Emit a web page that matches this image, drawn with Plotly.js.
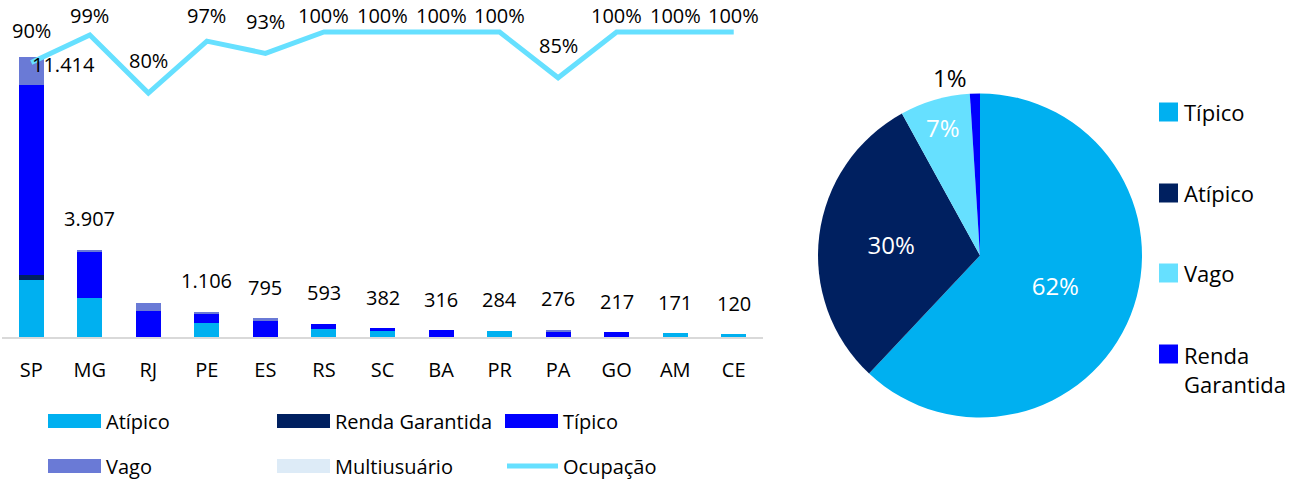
<!DOCTYPE html>
<html>
<head>
<meta charset="utf-8">
<script src="https://cdn.plot.ly/plotly-3.0.1.min.js"></script>
<style>
  html, body { margin: 0; padding: 0; background: #ffffff; }
  #chart { width: 1303px; height: 482px; }
</style>
</head>
<body>
<div id="chart"></div>
<script>
// ---------- data ----------
const categories = ['SP', 'MG', 'RJ', 'PE', 'ES', 'RS', 'SC', 'BA', 'PR', 'PA', 'GO', 'AM', 'CE'];
const atipico        = [2311, 1606,    0, 558,   0, 342, 232,   0, 261,   0,   0, 151, 110];
const rendaGarantida = [ 232,    0,    0,   0,   0,   0,   0,   0,   0,   0,   0,   0,   0];
const tipico         = [7716, 1846, 1076, 395, 640, 204, 122, 285,   0, 192, 192,   0,   0];
const vago           = [1154,  110,  310,  82, 122,   0,   0,   0,   0, 110,   0,   0,   0];
const multiusuario   = [   0,    0,    0,   0,   0,   0,   0,   0,   0,   0,   0,   0,   0];
const ocupacao       = [0.90, 0.99, 0.80, 0.97, 0.93, 1.00, 1.00, 1.00, 1.00, 0.85, 1.00, 1.00, 1.00];
const totalLabels    = [11414, 3907, null, 1106, 795, 593, 382, 316, 284, 276, 217, 171, 120];

const barSeriesNames = ['Atípico', 'Renda Garantida', 'Típico', 'Vago', 'Multiusuário'];
const lineSeriesName = 'Ocupação';

const pieLabels = ['Típico', 'Atípico', 'Vago', 'Renda Garantida'];
const pieValues = [62, 30, 7, 1];

// ---------- style ----------
const W = 1303, H = 482;
const FONT = '"Open Sans", "Noto Sans", sans-serif';
const barColors = ['#00B0F0', '#002060', '#0000FF', '#6A7AD6', '#DDEBF7'];
const lineColor = '#66E0FF';
const pieColors = ['#00B0F0', '#002060', '#66E0FF', '#0000FF'];
const pieTextColors = ['#FFFFFF', '#FFFFFF', '#FFFFFF', '#000000'];

const px = x => x / W;
const py = y => 1 - y / H;

// plot area geometry (pixels)
const BASE = 337, TOPPX = 0, Y2_100 = 32;
const Y2MAX = (BASE - TOPPX) / (BASE - Y2_100);   // y2 units at plot top
const Y1MAX = 12420 * Y2MAX;

function fmtThousands(n) {
  const s = String(Math.round(n));
  return s.replace(/\B(?=(\d{3})+(?!\d))/g, '.');
}

const barSeries = [atipico, rendaGarantida, tipico, vago, multiusuario];
const traces = barSeries.map((vals, i) => ({
  type: 'bar', x: categories, y: vals, name: barSeriesNames[i],
  marker: { color: barColors[i], line: { width: 0 } },
  xaxis: 'x', yaxis: 'y', showlegend: false, hoverinfo: 'x+y+name'
}));

traces.push({
  type: 'scatter', mode: 'lines', x: categories, y: ocupacao, name: lineSeriesName,
  line: { color: lineColor, width: 5, shape: 'linear' },
  xaxis: 'x', yaxis: 'y2', showlegend: false, cliponaxis: false
});

traces.push({
  type: 'pie', labels: pieLabels, values: pieValues, sort: false,
  direction: 'clockwise', rotation: 0,
  marker: { colors: pieColors, line: { width: 0 } },
  texttemplate: '%{percent:.0%}',
  textposition: ['inside', 'inside', 'inside', 'outside'],
  insidetextorientation: 'horizontal',
  textfont: { family: FONT, size: 24, color: pieTextColors },
  outsidetextfont: { family: FONT, size: 24, color: '#000000' },
  domain: { x: [px(818), px(1142)], y: [py(418), py(93)] },
  showlegend: false, hoverinfo: 'label+percent'
});

const annotations = [];
const totals = categories.map((c, i) => barSeries.reduce((s, arr) => s + arr[i], 0));

// value labels above bars
categories.forEach((c, i) => {
  if (totalLabels[i] == null) return;
  const over = totals[i] / 12420 > 0.85;
  annotations.push({
    x: c, y: totals[i], xref: 'x', yref: 'y', text: fmtThousands(totalLabels[i]),
    showarrow: false, yanchor: 'middle', xanchor: 'center',
    xshift: over ? 32 : 0, yshift: over ? -8 : 31,
    font: { family: FONT, size: 20, color: '#000000' }
  });
});

// occupancy labels
categories.forEach((c, i) => {
  annotations.push({
    x: c, y: Math.min(ocupacao[i] + 0.105, 1.053), xref: 'x', yref: 'y2',
    text: Math.round(ocupacao[i] * 100) + '%', showarrow: false,
    yanchor: 'middle', xanchor: 'center',
    font: { family: FONT, size: 20, color: '#000000' }
  });
});

// manual legend for bar chart
const shapes = [];
const legItems = [
  { name: barSeriesNames[0], color: barColors[0], x: 48, y: 421, kind: 'rect' },
  { name: barSeriesNames[1], color: barColors[1], x: 277, y: 421, kind: 'rect' },
  { name: barSeriesNames[2], color: barColors[2], x: 505, y: 421, kind: 'rect' },
  { name: barSeriesNames[3], color: barColors[3], x: 48, y: 466, kind: 'rect' },
  { name: barSeriesNames[4], color: barColors[4], x: 277, y: 466, kind: 'rect' },
  { name: lineSeriesName, color: lineColor, x: 505, y: 466, kind: 'line' }
];
legItems.forEach(it => {
  if (it.kind === 'rect') {
    shapes.push({ type: 'rect', xref: 'paper', yref: 'paper',
      x0: px(it.x), x1: px(it.x + 53), y0: py(it.y + 7), y1: py(it.y - 7),
      fillcolor: it.color, line: { width: 0 } });
  } else {
    shapes.push({ type: 'line', xref: 'paper', yref: 'paper',
      x0: px(it.x + 2), x1: px(it.x + 53), y0: py(it.y), y1: py(it.y),
      line: { color: it.color, width: 5 } });
  }
  annotations.push({ xref: 'paper', yref: 'paper', x: px(it.x + 56), y: py(it.y),
    xanchor: 'left', yanchor: 'middle', text: it.name, showarrow: false,
    font: { family: FONT, size: 20, color: '#000000' } });
});

// manual legend for pie
const pieLegY = [112, 193, 273, 354];
pieLabels.forEach((lab, i) => {
  shapes.push({ type: 'rect', xref: 'paper', yref: 'paper',
    x0: px(1159), x1: px(1178), y0: py(pieLegY[i] + 9.5), y1: py(pieLegY[i] - 9.5),
    fillcolor: pieColors[i], line: { width: 0 } });
  const txt = lab === 'Renda Garantida' ? 'Renda<br>Garantida' : lab;
  annotations.push({ xref: 'paper', yref: 'paper', x: px(1182),
    y: py(pieLegY[i]), xanchor: 'left', yanchor: lab === 'Renda Garantida' ? 'top' : 'middle',
    yshift: lab === 'Renda Garantida' ? 16 : 0, align: 'left',
    text: txt, showarrow: false,
    font: { family: FONT, size: 22, color: '#000000' } });
});

const layout = {
  width: W, height: H,
  margin: { l: 0, r: 0, t: 0, b: 0 },
  paper_bgcolor: '#FFFFFF', plot_bgcolor: 'rgba(0,0,0,0)',
  barmode: 'stack', bargap: 0.573,
  showlegend: false,
  font: { family: FONT, size: 20, color: '#000000' },
  xaxis: {
    domain: [px(2), px(763)], type: 'category',
    showline: true, linecolor: '#D9D9D9', linewidth: 2,
    showgrid: false, zeroline: false, ticks: '',
    ticklabelstandoff: 14,
    tickfont: { family: FONT, size: 20, color: '#000000' }
  },
  yaxis: {
    domain: [py(BASE), py(TOPPX)], range: [0, Y1MAX],
    visible: false, showgrid: false, zeroline: false
  },
  yaxis2: {
    overlaying: 'y', range: [0, Y2MAX], visible: false,
    showgrid: false, zeroline: false
  },
  annotations: annotations,
  shapes: shapes
};

Plotly.newPlot('chart', traces, layout, { displayModeBar: false, staticPlot: true });
</script>
</body>
</html>
